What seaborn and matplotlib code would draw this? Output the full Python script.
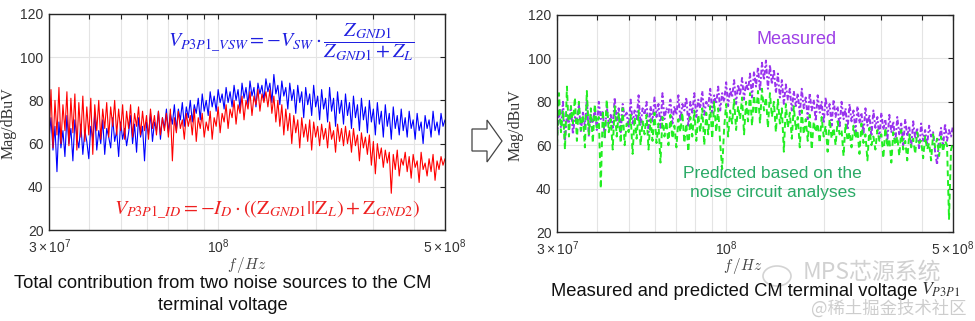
import numpy as np
import pandas as pd
import matplotlib
matplotlib.use("Agg")
import matplotlib.pyplot as plt
import seaborn as sns
from matplotlib.patches import Polygon, Ellipse
from matplotlib.ticker import FixedLocator, NullFormatter

# ---------------------------------------------------------------- data
# Sweep: 200 log-spaced frequency bins from 30 MHz to 500 MHz
F_START, F_STOP, N_BINS = 3e7, 5e8, 200
freq_hz = np.geomspace(F_START, F_STOP, N_BINS)

# Left panel: contribution of the switching-node source (blue) and
# the diode-current source (red) to the CM terminal voltage, dBuV
v_sw_db = [
    62, 72, 57, 68, 47, 70, 58, 66, 54, 73,
    60, 67, 52, 71, 63, 58, 69, 55, 66, 61,
    53, 68, 62, 74, 57, 66, 60, 71, 55, 67,
    63, 58, 72, 61, 66, 54, 70, 62, 67, 59,
    65, 73, 60, 69, 56, 72, 63, 68, 52, 70,
    64, 74, 61, 70, 66, 75, 62, 72, 67, 76,
    65, 74, 69, 78, 66, 76, 71, 79, 68, 77,
    72, 80, 70, 78, 74, 81, 71, 83, 75, 80,
    73, 84, 77, 82, 75, 85, 79, 83, 76, 86,
    79, 84, 77, 87, 80, 85, 76, 88, 81, 86,
    78, 89, 82, 86, 77, 88, 83, 87, 80, 90,
    84, 88, 79, 92, 83, 87, 78, 89, 82, 86,
    76, 88, 80, 85, 74, 87, 79, 84, 72, 86,
    78, 83, 73, 87, 77, 82, 71, 85, 76, 81,
    70, 86, 75, 81, 68, 84, 74, 80, 69, 83,
    73, 79, 67, 82, 72, 78, 66, 81, 71, 77,
    65, 80, 70, 76, 64, 79, 69, 75, 63, 78,
    68, 74, 62, 77, 67, 73, 64, 76, 66, 72,
    63, 75, 67, 71, 62, 74, 66, 70, 60, 73,
    67, 71, 63, 75, 66, 70, 64, 74, 68, 71,
]
i_d_db = [
    62, 85, 58, 80, 64, 86, 60, 78, 66, 84,
    59, 81, 65, 83, 57, 79, 63, 82, 61, 77,
    64, 81, 55, 78, 66, 80, 62, 76, 67, 79,
    63, 77, 68, 80, 64, 76, 66, 78, 62, 75,
    67, 78, 63, 74, 68, 77, 64, 75, 66, 73,
    62, 76, 67, 73, 64, 75, 64, 72, 66, 74,
    63, 76, 52, 72, 65, 75, 67, 71, 62, 74,
    68, 73, 64, 76, 61, 72, 67, 74, 63, 70,
    66, 75, 62, 72, 68, 77, 65, 74, 70, 78,
    67, 76, 72, 80, 69, 78, 74, 82, 71, 80,
    76, 84, 73, 82, 78, 85, 75, 83, 79, 84,
    77, 85, 74, 82, 70, 80, 68, 78, 64, 76,
    66, 74, 60, 73, 65, 71, 58, 72, 63, 69,
    61, 71, 57, 70, 63, 68, 59, 69, 62, 67,
    58, 70, 62, 66, 56, 69, 61, 67, 59, 68,
    60, 66, 56, 67, 59, 64, 52, 65, 58, 63,
    55, 64, 50, 61, 46, 60, 53, 58, 49, 57,
    51, 56, 37, 55, 48, 57, 45, 53, 50, 56,
    47, 54, 44, 55, 49, 52, 42, 56, 48, 51,
    45, 53, 47, 55, 43, 52, 48, 54, 50, 53,
]

# Right panel: measured vs. predicted CM terminal voltage, dBuV
measured_db = [
    64, 76, 68, 80, 62, 74, 70, 78, 65, 73,
    71, 79, 66, 75, 69, 81, 64, 74, 70, 77,
    67, 80, 72, 76, 63, 78, 70, 74, 68, 82,
    71, 77, 66, 79, 73, 75, 68, 81, 70, 76,
    72, 83, 69, 77, 74, 80, 66, 78, 71, 82,
    73, 79, 68, 84, 72, 77, 75, 81, 70, 78,
    74, 83, 71, 79, 76, 82, 69, 80, 75, 84,
    73, 81, 77, 85, 74, 80, 78, 86, 75, 83,
    79, 87, 76, 84, 80, 89, 78, 86, 82, 90,
    79, 88, 83, 91, 81, 89, 85, 93, 82, 94,
    87, 96, 85, 98, 90, 99, 86, 97, 88, 95,
    84, 93, 82, 90, 79, 88, 81, 86, 76, 85,
    78, 84, 74, 86, 77, 82, 72, 84, 76, 81,
    71, 83, 75, 80, 70, 82, 74, 79, 69, 81,
    73, 78, 68, 80, 72, 77, 67, 79, 71, 76,
    66, 78, 70, 75, 65, 77, 69, 74, 64, 76,
    68, 73, 63, 75, 67, 72, 62, 74, 66, 71,
    61, 73, 65, 70, 60, 72, 64, 69, 59, 71,
    63, 68, 58, 70, 62, 67, 60, 69, 64, 66,
    57, 51, 63, 68, 59, 70, 62, 67, 64, 69,
]
predicted_db = [
    60, 84, 66, 76, 58, 87, 64, 78, 70, 82,
    62, 80, 67, 74, 59, 85, 65, 77, 61, 79,
    68, 73, 40, 76, 63, 81, 66, 72, 58, 78,
    64, 75, 61, 77, 60, 70, 66, 74, 56, 73,
    63, 76, 60, 71, 65, 74, 58, 72, 62, 75,
    61, 70, 52, 73, 64, 71, 60, 74, 63, 69,
    59, 72, 66, 75, 61, 70, 57, 73, 64, 76,
    62, 74, 66, 77, 60, 75, 65, 78, 63, 80,
    66, 77, 61, 49, 68, 79, 64, 76, 70, 81,
    67, 78, 72, 82, 65, 80, 71, 84, 69, 83,
    74, 85, 70, 86, 76, 82, 68, 84, 73, 80,
    66, 81, 70, 77, 57, 79, 68, 75, 63, 78,
    67, 73, 59, 76, 65, 72, 62, 74, 58, 71,
    66, 70, 61, 73, 64, 69, 57, 72, 63, 68,
    60, 71, 65, 67, 55, 70, 62, 66, 59, 69,
    63, 67, 56, 70, 61, 65, 53, 68, 60, 64,
    58, 67, 62, 65, 54, 68, 59, 63, 52, 66,
    60, 64, 55, 67, 58, 62, 53, 65, 59, 63,
    56, 66, 61, 62, 54, 64, 58, 61, 53, 65,
    59, 63, 55, 64, 57, 62, 60, 26, 58, 61,
]

x_major = [3e7, 1e8, 5e8]
x_major_labels = [r"$3\times10^{7}$", r"$10^{8}$", r"$5\times10^{8}$"]
x_minor = [4e7, 5e7, 6e7, 7e7, 8e7, 9e7, 2e8, 3e8, 4e8]
y_ticks = [20, 40, 60, 80, 100, 120]

# ---------------------------------------------------------------- style
sns.set_theme(style="white")
plt.rcParams["font.family"] = ["Liberation Sans", "DejaVu Sans"]
plt.rcParams["mathtext.fontset"] = "custom"
plt.rcParams["mathtext.rm"] = "Liberation Sans"
plt.rcParams["mathtext.it"] = "Liberation Sans:italic"
plt.rcParams["mathtext.bf"] = "Liberation Sans:bold"

W, H = 975, 321
fig = plt.figure(figsize=(W / 100, H / 100), dpi=100)
fig.patch.set_facecolor("white")


def px_axes(x0, y0, x1, y1):
    return fig.add_axes([x0 / W, 1 - y1 / H, (x1 - x0) / W, (y1 - y0) / H])


def fx(x):
    return x / W


def fy(y):
    return 1 - y / H


def style_axes(ax):
    ax.set_xscale("log")
    ax.set_xlim(F_START, F_STOP)
    ax.set_ylim(20, 120)
    ax.xaxis.set_major_locator(FixedLocator(x_major))
    ax.set_xticklabels(x_major_labels)
    ax.xaxis.set_minor_locator(FixedLocator(x_minor))
    ax.xaxis.set_minor_formatter(NullFormatter())
    ax.set_yticks(y_ticks)
    ax.grid(True, which="both", axis="x", color="#e4e4e4", lw=0.8)
    ax.grid(True, which="major", axis="y", color="#e4e4e4", lw=0.8)
    ax.set_axisbelow(True)
    ax.tick_params(which="both", direction="in", top=True, right=True,
                   length=3.5, width=0.8, colors="#222222",
                   labelsize=10, labelcolor="#333333")
    ax.tick_params(axis="y", pad=4)
    ax.tick_params(axis="x", pad=5)
    for s in ax.spines.values():
        s.set_color("#262626")
        s.set_linewidth(1.0)
    ax.set_xlabel("")
    ax.set_ylabel("")


# ---------------------------------------------------------------- left panel
ax1 = px_axes(49, 14, 445, 230)
ax1.set_xscale("log")
left_df = pd.DataFrame({
    "freq": np.concatenate([freq_hz, freq_hz]),
    "mag": v_sw_db + i_d_db,
    "source": ["VSW"] * N_BINS + ["ID"] * N_BINS,
})
sns.lineplot(data=left_df, x="freq", y="mag", hue="source",
             palette={"VSW": "#0000ff", "ID": "#ff0000"},
             estimator=None, sort=False, legend=False, lw=0.8, ax=ax1)
style_axes(ax1)

ax1.text(0.30, 0.87,
         r"$V_{P3P1\_VSW}=-V_{SW}\cdot\dfrac{Z_{GND1}}{Z_{GND1}+Z_{L}}$",
         transform=ax1.transAxes, color="#2020e0", fontsize=14.5,
         math_fontfamily="stix", ha="left", va="center")
ax1.text(0.165, 0.092,
         r"$V_{P3P1\_ID}=-I_{D}\cdot((\mathrm{Z}_{GND1}||\mathrm{Z}_{L})+\mathrm{Z}_{GND2})$",
         transform=ax1.transAxes, color="#ee2020", fontsize=14.5,
         math_fontfamily="stix", ha="left", va="center")

# ---------------------------------------------------------------- right panel
ax2 = px_axes(557, 15, 953, 232)
ax2.set_xscale("log")
right_df = pd.DataFrame({
    "freq": np.concatenate([freq_hz, freq_hz]),
    "mag": measured_db + predicted_db,
    "kind": ["Measured"] * N_BINS + ["Predicted"] * N_BINS,
})
sns.lineplot(data=right_df, x="freq", y="mag", hue="kind", style="kind",
             palette={"Measured": "#9933ee", "Predicted": "#22ee22"},
             dashes={"Measured": (2.5, 1.2, 1, 1.2), "Predicted": (3, 2)},
             estimator=None, sort=False, legend=False, lw=1.4, ax=ax2)
style_axes(ax2)

ax2.text(0.605, 0.885, "Measured", transform=ax2.transAxes,
         color="#9d3fe6", fontsize=13, ha="center", va="center")
ax2.text(0.545, 0.226, "Predicted based on the\nnoise circuit analyses",
         transform=ax2.transAxes, color="#2aaa66", fontsize=12.5,
         ha="center", va="center", linespacing=1.3)

# ---------------------------------------------------------------- axis titles
for xc, yc in [(9, 123), (516, 125)]:
    fig.text(fx(xc), fy(yc), "Mag/dBuV", rotation=90, ha="center",
             va="center", fontsize=11.5, color="#333333",
             family=["Liberation Serif", "DejaVu Serif"])
for xc, yc in [(247, 265), (743, 266)]:
    fig.text(fx(xc), fy(yc), r"$f\,/Hz$", ha="center", va="center",
             fontsize=11, color="#444444", math_fontfamily="cm")

# ---------------------------------------------------------------- captions
fig.text(fx(223), fy(284), "Total contribution from two noise sources to the CM",
         ha="center", va="center", fontsize=13.2, color="#111111")
fig.text(fx(223), fy(306), "terminal voltage",
         ha="center", va="center", fontsize=13.2, color="#111111")
fig.text(fx(551), fy(291), "Measured and predicted CM terminal voltage",
         ha="left", va="center", fontsize=13.2, color="#111111")
fig.text(fx(921), fy(290), r"$V_{P3P1}$", ha="left", va="center",
         fontsize=13, color="#333333", math_fontfamily="stix")

# ---------------------------------------------------------------- arrow between panels
arrow_px = [(472, 129), (487, 129), (487, 120), (502, 141),
            (487, 162), (487, 151), (472, 151)]
fig.patches.append(Polygon([(fx(x), fy(y)) for x, y in arrow_px], closed=True,
                           transform=fig.transFigure, facecolor="white",
                           edgecolor="#444444", lw=0.9))

# ---------------------------------------------------------------- watermark
fig.patches.append(Ellipse((fx(777), fy(276)), 28 / W, 20 / H,
                           transform=fig.transFigure, facecolor="none",
                           edgecolor="#cfcfcf", lw=1.2, alpha=0.9))
fig.text(fx(803), fy(272), "MPS芯源系统", ha="left", va="center",
         fontsize=16.5, color="#cccccc", alpha=0.9,
         family=["Noto Sans CJK SC", "DejaVu Sans"])
fig.text(fx(967), fy(309), "@稀土掘金技术社区", ha="right", va="center",
         fontsize=12.5, color="#c8c8c8", alpha=0.9,
         family=["Noto Sans CJK SC", "DejaVu Sans"])

fig.savefig("out.png", dpi=100, facecolor="white")
